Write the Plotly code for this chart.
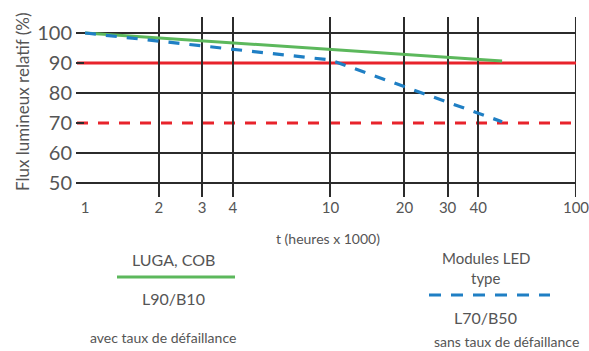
import plotly.graph_objects as go

# ---- data ----
tick_vals = [1, 2, 3, 4, 10, 20, 30, 40, 100]
tick_text = ["1", "2", "3", "4", "10", "20", "30", "40", "100"]
y_ticks = [50, 60, 70, 80, 90, 100]

luga_t = [1, 50]
luga_flux = [100, 90.7]

led_t = [1, 10, 50]
led_flux = [100, 91, 70.4]

threshold_solid = 90
threshold_dashed = 70

GREEN = "#5cb85c"
BLUE = "#1f7fc4"
RED = "#e8232b"
GRID = "#2b2b2b"
TXT = "#555555"
FONT = "Lato, 'Open Sans', sans-serif"

W, H = 589, 351
L, R, T, B = 85, 13, 17, 154
PW, PH = W - L - R, H - T - B


def px(x):
    return (x - L) / PW


def py(y):
    return (H - B - y) / PH


fig = go.Figure()
fig.add_trace(go.Scatter(x=luga_t, y=luga_flux, mode="lines",
                         line=dict(color=GREEN, width=3), showlegend=False,
                         hoverinfo="skip"))
fig.add_trace(go.Scatter(x=led_t, y=led_flux, mode="lines",
                         line=dict(color=BLUE, width=3.2, dash="11px,10px"),
                         showlegend=False, hoverinfo="skip"))

shapes = []
# horizontal grid lines (except threshold values)
for v in y_ticks:
    if v in (threshold_solid, threshold_dashed):
        continue
    shapes.append(dict(type="line", xref="paper", yref="y", x0=-8 / PW, x1=1,
                       y0=v, y1=v, line=dict(color=GRID, width=2), layer="below"))
# right edge vertical grid line (x = 100)
shapes.append(dict(type="line", xref="x", yref="paper", x0=tick_vals[-1], x1=tick_vals[-1],
                   y0=0, y1=1, line=dict(color=GRID, width=2), layer="below"))
# thresholds
shapes.append(dict(type="line", xref="paper", yref="y", x0=-8 / PW, x1=1,
                   y0=threshold_solid, y1=threshold_solid,
                   line=dict(color=RED, width=3), layer="below"))
shapes.append(dict(type="line", xref="paper", yref="y", x0=-8 / PW, x1=1,
                   y0=threshold_dashed, y1=threshold_dashed,
                   line=dict(color=RED, width=3, dash="11px,10px"), layer="below"))
# legend samples
shapes.append(dict(type="line", xref="paper", yref="paper", x0=px(117), x1=px(235),
                   y0=py(277), y1=py(277), line=dict(color=GREEN, width=3)))
shapes.append(dict(type="line", xref="paper", yref="paper", x0=px(429), x1=px(550),
                   y0=py(295), y1=py(295), line=dict(color=BLUE, width=3, dash="12px,10px")))

annotations = []


def note(text, x, y, size, angle=0):
    annotations.append(dict(text=text, xref="paper", yref="paper", x=px(x), y=py(y),
                            xanchor="center", yanchor="middle", showarrow=False,
                            textangle=angle, font=dict(family=FONT, size=size, color=TXT)))


note("Flux lumineux relatif (%)", 22, 102, 17, -90)
note("t (heures x 1000)", 328, 238, 14)
note("LUGA, COB", 173, 259, 16)
note("L90/B10", 173, 298, 16)
note("avec taux de défaillance", 163, 337, 14)
note("Modules LED", 486, 258, 15)
note("type", 486, 278, 15)
note("L70/B50", 485, 317, 16)
note("sans taux de défaillance", 506, 341, 14)

fig.update_layout(
    width=W, height=H,
    margin=dict(l=L, r=R, t=T, b=B, pad=0, autoexpand=False),
    paper_bgcolor="white", plot_bgcolor="white",
    shapes=shapes, annotations=annotations,
    xaxis=dict(type="log", range=[0, 2.0001], tickvals=tick_vals, ticktext=tick_text,
               showgrid=True, gridcolor=GRID, gridwidth=2, zeroline=False,
               showline=False, ticks="", ticklabeloverflow="allow", automargin=False,
               tickfont=dict(family=FONT, size=15, color=TXT)),
    yaxis=dict(range=[45.33, 105.33], tickvals=y_ticks, showgrid=False, zeroline=False,
               showline=False, ticks="outside", ticklen=8, tickwidth=1.5, tickcolor=GRID,
               automargin=False, tickfont=dict(family=FONT, size=20, color=TXT)),
)

fig.write_html("out.html", config={"displayModeBar": False},
               post_script="document.body.style.margin='0';document.body.style.overflow='hidden';")
